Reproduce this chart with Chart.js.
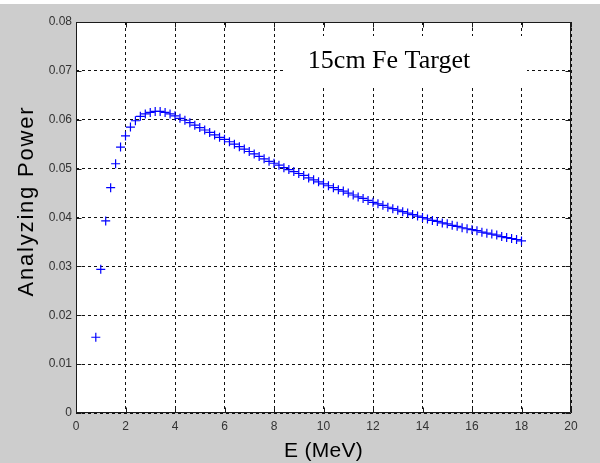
<!DOCTYPE html>
<html>
<head>
<meta charset="utf-8">
<script src="https://cdn.jsdelivr.net/npm/chart.js@4/dist/chart.umd.min.js"></script>
<style>
  html, body { margin: 0; padding: 0; background: #ffffff; }
  #wrap { position: absolute; left: 0; top: 0; width: 600px; height: 463px; }
  canvas { display: block; }
</style>
</head>
<body>
<div id="wrap"><canvas id="c" width="600" height="463"></canvas></div>
<script>
// Neutron energy (MeV)
const energy = [
  0.8, 1.0, 1.2, 1.4, 1.6, 1.8, 2.0, 2.2, 2.4, 2.6, 2.8, 3.0, 3.2, 3.4, 3.6, 3.8,
  4.0, 4.2, 4.4, 4.6, 4.8, 5.0, 5.2, 5.4, 5.6, 5.8, 6.0, 6.2, 6.4, 6.6, 6.8, 7.0,
  7.2, 7.4, 7.6, 7.8, 8.0, 8.2, 8.4, 8.6, 8.8, 9.0, 9.2, 9.4, 9.6, 9.8, 10.0, 10.2,
  10.4, 10.6, 10.8, 11.0, 11.2, 11.4, 11.6, 11.8, 12.0, 12.2, 12.4, 12.6, 12.8, 13.0,
  13.2, 13.4, 13.6, 13.8, 14.0, 14.2, 14.4, 14.6, 14.8, 15.0, 15.2, 15.4, 15.6, 15.8,
  16.0, 16.2, 16.4, 16.6, 16.8, 17.0, 17.2, 17.4, 17.6, 17.8, 18.0
];

// Analyzing power for the 15 cm iron target
const analyzingPower = [
  0.0155, 0.0294, 0.0393, 0.0461, 0.0510, 0.0544, 0.0567, 0.0585, 0.0598, 0.0607, 0.0612, 0.0615, 0.0617, 0.0617, 0.0615, 0.0612,
  0.0608, 0.0603, 0.0599, 0.0594, 0.0589, 0.0584, 0.0579, 0.0574, 0.0569, 0.0564, 0.0560, 0.0555, 0.0550, 0.0545, 0.0540, 0.0535,
  0.0530, 0.0525, 0.0520, 0.0515, 0.0511, 0.0507, 0.0502, 0.0498, 0.0494, 0.0490, 0.0486, 0.0481, 0.0477, 0.0473, 0.0469, 0.0465,
  0.0461, 0.0457, 0.0454, 0.0450, 0.0446, 0.0442, 0.0439, 0.0435, 0.0431, 0.0428, 0.0425, 0.0421, 0.0418, 0.0415,
  0.0412, 0.0409, 0.0406, 0.0403, 0.0400, 0.0397, 0.0394, 0.0392, 0.0389, 0.0387, 0.0384, 0.0382, 0.0379, 0.0377,
  0.0375, 0.0373, 0.0370, 0.0368, 0.0366, 0.0364, 0.0361, 0.0359, 0.0357, 0.0355, 0.0352
];

const xTicks = [0, 2, 4, 6, 8, 10, 12, 14, 16, 18, 20];
const yTicks = [0, 0.01, 0.02, 0.03, 0.04, 0.05, 0.06, 0.07, 0.08];

const xTitle = 'E (MeV)';
const yTitle = 'Analyzing Power';
const annotation = '15cm Fe Target';

const FIG_GRAY = '#cdcdcd';
const SANS = '"Liberation Sans", Arial, sans-serif';
const SERIF = '"Liberation Serif", "Times New Roman", serif';

// Figure background: thin white strip on top, grey figure below
const figureBackground = {
  id: 'figureBackground',
  beforeDraw(chart) {
    const ctx = chart.ctx;
    ctx.save();
    ctx.fillStyle = '#ffffff';
    ctx.fillRect(0, 0, chart.width, chart.height);
    ctx.fillStyle = FIG_GRAY;
    ctx.fillRect(0, 4, chart.width, chart.height - 4);
    const a = chart.chartArea;
    ctx.fillStyle = '#ffffff';
    ctx.fillRect(a.left, a.top, a.right - a.left, a.bottom - a.top);
    ctx.restore();
  }
};

// Axes box with inward ticks on all four sides, axis titles and the target label
const axesFrame = {
  id: 'axesFrame',
  afterDraw(chart) {
    const ctx = chart.ctx;
    const a = chart.chartArea;
    const xs = chart.scales.x, ys = chart.scales.y;
    const L = Math.round(a.left) + 0.5, R = Math.round(a.right) - 0.5;
    const T = Math.round(a.top) + 0.5, B = Math.round(a.bottom) - 0.5;
    const tick = 5;
    ctx.save();

    // label box covering the grid
    ctx.fillStyle = '#ffffff';
    ctx.fillRect(285, 36, 242, 51);
    ctx.fillStyle = '#000000';
    ctx.font = '26px ' + SERIF;
    ctx.textAlign = 'center';
    ctx.textBaseline = 'alphabetic';
    ctx.fillText(annotation, 389, 68);

    ctx.strokeStyle = '#1a1a1a';
    ctx.lineWidth = 1;
    ctx.beginPath();
    ctx.rect(L, T, R - L, B - T);
    xTicks.forEach(v => {
      const px = Math.round(xs.getPixelForValue(v)) + 0.5;
      ctx.moveTo(px, B); ctx.lineTo(px, B - tick);
      ctx.moveTo(px, T); ctx.lineTo(px, T + tick);
    });
    yTicks.forEach(v => {
      const py = Math.round(ys.getPixelForValue(v)) + 0.5;
      ctx.moveTo(L, py); ctx.lineTo(L + tick, py);
      ctx.moveTo(R, py); ctx.lineTo(R - tick, py);
    });
    ctx.stroke();

    // axis titles
    ctx.fillStyle = '#000000';
    ctx.textAlign = 'center';
    ctx.textBaseline = 'middle';
    ctx.font = '21px ' + SANS;
    ctx.letterSpacing = '0.3px';
    ctx.fillText(xTitle, (a.left + a.right) / 2, 451);
    ctx.font = '22px ' + SANS;
    ctx.letterSpacing = '1.8px';
    ctx.translate(27, 201);
    ctx.rotate(-Math.PI / 2);
    ctx.fillText(yTitle, 0, 0);
    ctx.restore();
  }
};

const gridStyle = {
  color: '#111111',
  lineWidth: 1,
  drawTicks: false,
  tickLength: 0
};

new Chart(document.getElementById('c'), {
  type: 'scatter',
  data: {
    datasets: [{
      data: energy.map((e, i) => ({ x: e, y: analyzingPower[i] })),
      pointStyle: 'cross',
      pointRadius: 4.5,
      pointHoverRadius: 4.5,
      pointBorderWidth: 1.2,
      borderColor: '#0000ff',
      backgroundColor: '#0000ff',
      showLine: false
    }]
  },
  options: {
    responsive: false,
    animation: false,
    devicePixelRatio: 1,
    layout: { padding: { left: 0, top: 22, right: 29, bottom: 0 } },
    plugins: {
      legend: { display: false },
      tooltip: { enabled: false }
    },
    scales: {
      x: {
        type: 'linear',
        min: 0, max: 20,
        afterBuildTicks: s => { s.ticks = xTicks.map(v => ({ value: v })); },
        afterFit: s => { s.height = 50; },
        grid: gridStyle,
        border: { display: false, dash: [3, 3] },
        ticks: {
          padding: 6,
          color: '#333333',
          font: { family: SANS, size: 12 },
          maxRotation: 0,
          callback: v => String(v)
        }
      },
      y: {
        type: 'linear',
        min: 0, max: 0.08,
        afterBuildTicks: s => { s.ticks = yTicks.map(v => ({ value: v })); },
        afterFit: s => { s.width = 76; },
        grid: gridStyle,
        border: { display: false, dash: [3, 3] },
        ticks: {
          padding: 4,
          color: '#333333',
          font: { family: SANS, size: 12 },
          callback: v => (v === 0 ? '0' : v.toFixed(2))
        }
      }
    }
  },
  plugins: [figureBackground, axesFrame]
});
</script>
</body>
</html>
